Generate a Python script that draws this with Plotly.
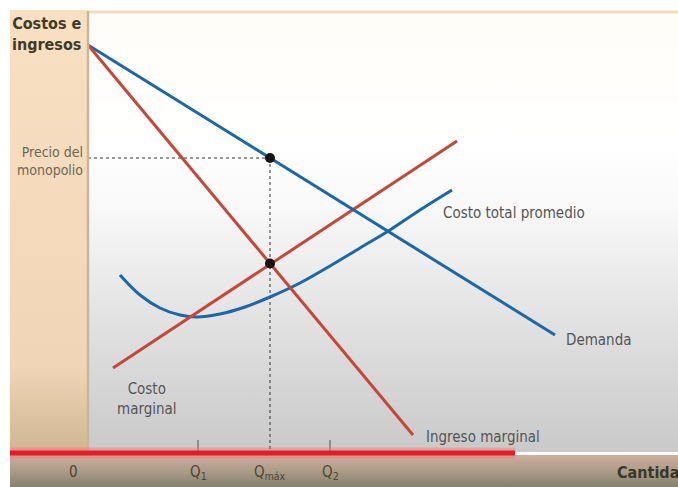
import plotly.graph_objects as go

# ---- data (economic units) ----
demand_q = [0.0, 9.34]
demand_p = [8.1, 2.3]
mr_q = [0.0, 6.5]
mr_p = [8.1, 0.3]
mc_q = [0.5, 7.38]
mc_p = [1.64, 6.18]
atc_q = [0.64, 1.04, 1.44, 1.84, 2.18, 2.64, 3.14, 3.64, 4.24, 4.84, 5.44, 6.04, 6.64, 7.28]
atc_p = [3.5, 3.1, 2.84, 2.7, 2.66, 2.72, 2.86, 3.06, 3.34, 3.68, 4.04, 4.4, 4.8, 5.2]
q_max = 3.64
p_monopoly = 5.84
mr_at_qmax = 3.73
q1 = 2.2
q2 = 4.84
tick_labels = ["0", "Q<sub>1</sub>", "Q<sub>máx</sub>", "Q<sub>2</sub>"]
tick_pos = [-0.3, q1, q_max, q2]

FONT = "Liberation Sans Narrow, DejaVu Sans Condensed, Arial Narrow, sans-serif"
XR = [-1.76, 11.8]
YR = [-0.74, 9.0]
BLUE = "#1b67a8"
RED = "#c5473a"

fig = go.Figure()

# background panels (gradients)
fig.add_trace(go.Scatter(x=[0, 11.8, 11.8, 0, 0], y=[-0.04, -0.04, 8.76, 8.76, -0.04],
                         mode="lines", line=dict(width=0), fill="toself",
                         fillgradient=dict(type="vertical",
                                           colorscale=[[0, "#c9c9c9"], [0.3, "#e2e2e2"],
                                                       [0.55, "#f8f8f8"], [0.7, "#ffffff"], [1, "#fffdf8"]]),
                         hoverinfo="skip", showlegend=False))
fig.add_trace(go.Scatter(x=[-1.56, 0, 0, -1.56, -1.56], y=[-0.1, -0.1, 8.8, 8.8, -0.1],
                         mode="lines", line=dict(width=0), fill="toself",
                         fillgradient=dict(type="vertical",
                                           colorscale=[[0, "#cdb492"], [0.2, "#f0d6b6"], [1, "#f9e0c2"]]),
                         hoverinfo="skip", showlegend=False))
fig.add_trace(go.Scatter(x=[-1.56, 11.8, 11.8, -1.56, -1.56], y=[-0.74, -0.74, -0.1, -0.1, -0.74],
                         mode="lines", line=dict(width=0), fill="toself",
                         fillgradient=dict(type="vertical",
                                           colorscale=[[0, "#858070"], [0.5, "#ab9c88"], [1, "#d0ae9e"]]),
                         hoverinfo="skip", showlegend=False))

# top border and y axis line
fig.add_shape(type="line", x0=0, x1=11.8, y0=8.76, y1=8.76, line=dict(color="#f3dcc0", width=3))
fig.add_shape(type="line", x0=0, x1=0, y0=-0.06, y1=8.78, line=dict(color="#c9b696", width=2.5))

# red baseline
fig.add_shape(type="line", x0=-1.56, x1=8.54, y0=-0.06, y1=-0.06,
              line=dict(color="rgba(240,120,120,0.45)", width=11))
fig.add_shape(type="line", x0=-1.56, x1=8.54, y0=-0.06, y1=-0.06,
              line=dict(color="#e31d27", width=5))

# dotted guides
fig.add_trace(go.Scatter(x=[0, q_max], y=[p_monopoly, p_monopoly], mode="lines",
                         line=dict(color="#333333", width=1, dash="dot"), hoverinfo="skip", showlegend=False))
fig.add_trace(go.Scatter(x=[q_max, q_max], y=[p_monopoly, -0.06], mode="lines",
                         line=dict(color="#333333", width=1, dash="dot"), hoverinfo="skip", showlegend=False))
# ticks Q1, Q2
for q in [q1, q2]:
    fig.add_trace(go.Scatter(x=[q, q], y=[0.2, -0.06], mode="lines",
                             line=dict(color="#555555", width=1), hoverinfo="skip", showlegend=False))

# curves
fig.add_trace(go.Scatter(x=atc_q, y=atc_p, mode="lines", line=dict(color=BLUE, width=3, shape="spline"),
                         showlegend=False))
fig.add_trace(go.Scatter(x=mc_q, y=mc_p, mode="lines", line=dict(color=RED, width=3), showlegend=False))
fig.add_trace(go.Scatter(x=demand_q, y=demand_p, mode="lines", line=dict(color=BLUE, width=3),
                         showlegend=False))
fig.add_trace(go.Scatter(x=mr_q, y=mr_p, mode="lines", line=dict(color=RED, width=3), showlegend=False))

# points
fig.add_trace(go.Scatter(x=[q_max, q_max], y=[p_monopoly, mr_at_qmax], mode="markers",
                         marker=dict(color="#141414", size=10), showlegend=False))

ann = []
def A(text, x, y, xanchor="center", size=12, color="#555555", bold=False, align="center"):
    ann.append(dict(text=f"<b>{text}</b>" if bold else text, x=x, y=y, xref="x", yref="y",
                    xanchor=xanchor, yanchor="middle", showarrow=False, align=align,
                    font=dict(family=FONT, size=size, color=color)))

A("Costos e<br>ingresos", -0.82, 8.32, size=16, color="#3e3c28", bold=True)
A("Precio del<br>monopolio", -0.06, 5.78, xanchor="right", size=14, color="#6a685a", align="right")
A("Costo total promedio", 7.06, 4.74, xanchor="left", size=15, color="#555555")
A("Demanda", 9.52, 2.2, xanchor="left", size=15, color="#555555")
A("Costo<br>marginal", 1.18, 1.02, size=15, color="#555555")
A("Ingreso marginal", 6.72, 0.26, xanchor="left", size=15, color="#555555")
for t, x in zip(tick_labels, tick_pos):
    A(t, x, -0.44, size=15, color="#4a4638")
A("Cantidad", 10.54, -0.44, xanchor="left", size=16, color="#3a3826", bold=True)

fig.update_layout(
    width=678, height=487, margin=dict(l=0, r=0, t=0, b=0),
    paper_bgcolor="#ffffff", plot_bgcolor="#ffffff",
    xaxis=dict(range=XR, visible=False, fixedrange=True),
    yaxis=dict(range=YR, visible=False, fixedrange=True),
    annotations=ann, showlegend=False,
)

fig.write_html("out.html", config={"displayModeBar": False},
               post_script="document.body.style.margin='0';document.body.style.overflow='hidden';")
